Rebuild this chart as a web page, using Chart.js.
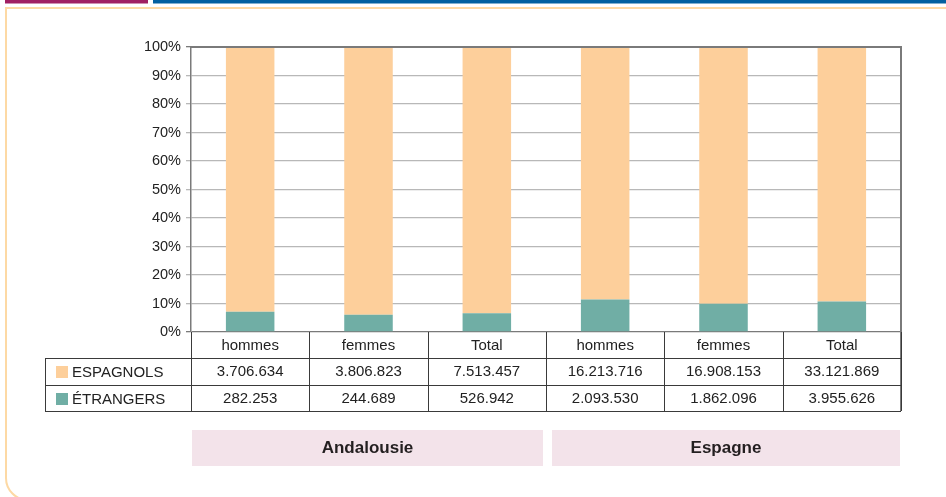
<!DOCTYPE html>
<html>
<head>
<meta charset="utf-8">
<script src="https://cdn.jsdelivr.net/npm/chart.js@4/dist/chart.umd.min.js"></script>
<style>
  html, body { margin: 0; padding: 0; background: #fff; }
  canvas { display: block; }
</style>
</head>
<body>
<canvas id="popChart" width="946" height="497"></canvas>
<script>
// Data
const categories = ['hommes', 'femmes', 'Total', 'hommes', 'femmes', 'Total'];
const groups = ['Andalousie', 'Espagne'];
const espagnols = [3706634, 3806823, 7513457, 16213716, 16908153, 33121869];
const etrangers = [282253, 244689, 526942, 2093530, 1862096, 3955626];
const yTicks = [0, 10, 20, 30, 40, 50, 60, 70, 80, 90, 100];

const FONT = '"Liberation Sans", Arial, sans-serif';
const ORANGE = '#FDCF9B';
const TEAL = '#70AEA5';

// share of each population, in %
const pctEtr = etrangers.map((v, i) => v / (v + espagnols[i]) * 100);
const pctEsp = espagnols.map((v, i) => v / (v + etrangers[i]) * 100);

function fmt(n) {
    return String(n).replace(/\B(?=(\d{3})+(?!\d))/g, '.');
}

// frame, top strips, data table and group labels
const decorPlugin = {
    id: 'decor',
    beforeDraw(chart) {
        const ctx = chart.ctx;
        ctx.save();
        ctx.fillStyle = '#fff';
        ctx.fillRect(0, 0, chart.width, chart.height);

        // top colour strips
        ctx.fillStyle = '#A01F62';
        ctx.fillRect(5, 0, 143, 3.5);
        ctx.fillStyle = '#0360A0';
        ctx.fillRect(153, 0, chart.width - 153, 3.5);

        // rounded orange frame
        ctx.strokeStyle = '#FDD9A4';
        ctx.lineWidth = 2;
        ctx.beginPath();
        ctx.moveTo(chart.width + 2, 8);
        ctx.lineTo(6, 8);
        ctx.lineTo(6, 478);
        ctx.arcTo(6, 500, 28, 500, 22);
        ctx.stroke();
        ctx.restore();
    },
    afterDraw(chart) {
        const ctx = chart.ctx;
        const area = chart.chartArea;
        const n = categories.length;
        const w = (area.right - area.left) / n;
        const yHead = area.bottom + 26;
        const yRow1 = area.bottom + 53;
        const yRow2 = area.bottom + 79;
        const tableLeft = 45;

        ctx.save();
        // plot top + right border
        ctx.strokeStyle = '#7a7a7a';
        ctx.lineWidth = 2;
        ctx.beginPath();
        ctx.moveTo(area.left, area.top);
        ctx.lineTo(area.right, area.top);
        ctx.lineTo(area.right, yRow2);
        ctx.stroke();

        // table grid
        ctx.strokeStyle = '#3a3a3a';
        ctx.lineWidth = 1;
        ctx.beginPath();
        for (let i = 0; i <= n; i++) {
            const x = Math.round(area.left + i * w) + 0.5;
            ctx.moveTo(x, area.bottom);
            ctx.lineTo(x, yRow2);
        }
        ctx.moveTo(tableLeft + 0.5, yHead);
        ctx.lineTo(tableLeft + 0.5, yRow2);
        [yHead, yRow1, yRow2].forEach(y => {
            ctx.moveTo(tableLeft, Math.round(y) + 0.5);
            ctx.lineTo(area.right, Math.round(y) + 0.5);
        });
        ctx.stroke();

        // table text
        ctx.fillStyle = '#222';
        ctx.font = '15px ' + FONT;
        ctx.textAlign = 'center';
        ctx.textBaseline = 'middle';
        categories.forEach((c, i) => {
            const cx = area.left + (i + 0.5) * w;
            ctx.fillText(c, cx, area.bottom + 14);
            ctx.fillText(fmt(espagnols[i]), cx, yHead + 14);
            ctx.fillText(fmt(etrangers[i]), cx, yRow1 + 14);
        });

        // legend cells
        const rows = [
            { label: 'ESPAGNOLS', color: ORANGE, y: yHead + 14 },
            { label: '\u00C9TRANGERS', color: TEAL, y: yRow1 + 14 }
        ];
        ctx.textAlign = 'left';
        rows.forEach(r => {
            ctx.fillStyle = r.color;
            ctx.fillRect(56, r.y - 6, 12, 12);
            ctx.fillStyle = '#222';
            ctx.fillText(r.label, 72, r.y + 1);
        });

        // group boxes
        const per = n / groups.length;
        ctx.font = 'bold 17px ' + FONT;
        ctx.textAlign = 'center';
        groups.forEach((g, k) => {
            const x0 = area.left + k * per * w + (k === 0 ? 1 : 6);
            const x1 = area.left + (k + 1) * per * w - (k === 0 ? 3 : 1);
            ctx.fillStyle = '#F3E3EA';
            ctx.fillRect(x0, 430, x1 - x0, 36);
            ctx.fillStyle = '#231F20';
            ctx.fillText(g, (x0 + x1) / 2, 448);
        });
        ctx.restore();
    }
};

new Chart(document.getElementById('popChart'), {
    type: 'bar',
    data: {
        labels: categories,
        datasets: [
            {
                label: '\u00C9TRANGERS',
                data: pctEtr,
                backgroundColor: TEAL,
                barPercentage: 0.41,
                categoryPercentage: 1
            },
            {
                label: 'ESPAGNOLS',
                data: pctEsp,
                backgroundColor: ORANGE,
                barPercentage: 0.41,
                categoryPercentage: 1
            }
        ]
    },
    options: {
        responsive: false,
        devicePixelRatio: 1,
        animation: false,
        layout: { padding: { left: 0, top: 47, right: 45, bottom: 165 } },
        plugins: {
            legend: { display: false },
            tooltip: { enabled: false }
        },
        scales: {
            x: { stacked: true, display: false },
            y: {
                stacked: true,
                min: 0,
                max: 100,
                afterFit: s => { s.width = 191; },
                afterBuildTicks: s => { s.ticks = yTicks.map(v => ({ value: v })); },
                ticks: {
                    callback: v => v + '%',
                    color: '#222',
                    font: { family: FONT, size: 14.5 },
                    padding: 5
                },
                grid: {
                    color: c => (c.tick && (c.tick.value === 0 || c.tick.value === 100)) ? '#7a7a7a' : '#b8b8b8',
                    lineWidth: 1.3,
                    tickLength: 5
                },
                border: { display: true, color: '#7a7a7a', width: 1.5 }
            }
        }
    },
    plugins: [decorPlugin]
});
</script>
</body>
</html>
